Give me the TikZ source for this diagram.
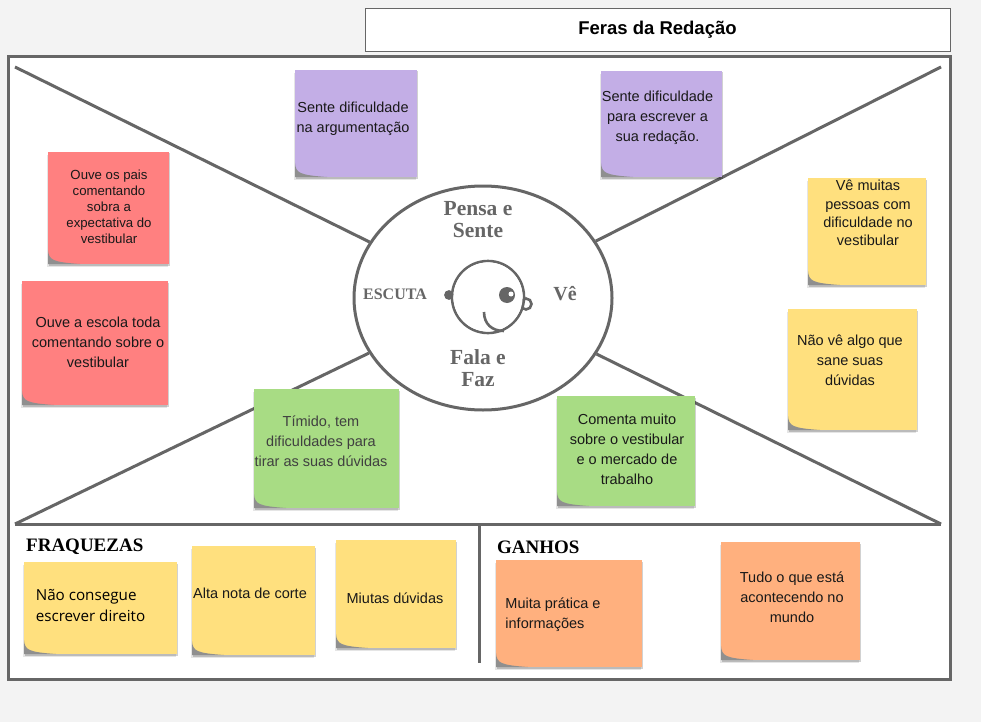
\documentclass[tikz,border=0pt]{standalone}
\usepackage{fontspec}
\setmainfont{Liberation Sans}
\newfontfamily\headfont{Liberation Serif}
\newfontfamily\handfont{Open Sans}
\usetikzlibrary{positioning, calc, shapes.geometric, shadows}
\definecolor{pagebg}{HTML}{F3F3F3}
\definecolor{frameline}{HTML}{666666}
\definecolor{curl}{HTML}{8F8F8F}
\definecolor{notepurple}{HTML}{C3AEE6}
\definecolor{notered}{HTML}{FF8080}
\definecolor{noteyellow}{HTML}{FFE07E}
\definecolor{notegreen}{HTML}{A8DC84}
\definecolor{noteorange}{HTML}{FFB07E}
\begin{document}
\begin{tikzpicture}[
			x = 1pt, y = -1pt,
			sticky/.style = {rectangle, inner sep = 0pt, outer sep = 0pt, fill = #1,
				general shadow = {fill = black, fill opacity = 0.10, shadow xshift = -1pt, shadow yshift = -3pt},
				general shadow = {fill = black, fill opacity = 0.18, shadow xshift = 1pt, shadow yshift = -1.5pt},
				path picture = {\fill[curl] (path picture bounding box.south west) ++(0pt,14pt) .. controls +(1pt,-10pt) and +(-28pt,2pt) .. ++(32pt,-14pt) -- (path picture bounding box.south west) -- cycle;}},
			notetext/.style = {align = center, inner sep = 0pt, text = black!90, font = \fontsize{14.5}{20}\selectfont},
			smalltext/.style = {align = center, inner sep = 0pt, text = black!90, font = \fontsize{13.2}{16}\selectfont},
			handtext/.style = {align = left, inner sep = 0pt, text = black, font = \handfont\fontsize{15.2}{21}\selectfont},
			zone/.style = {align = center, inner sep = 0pt, text = frameline, font = \headfont\bfseries\fontsize{21.5}{22}\selectfont},
			heading/.style = {inner sep = 0pt, anchor = west, text = black, font = \headfont\bfseries\fontsize{19}{22}\selectfont},
			divider/.style = {line width = 3pt, draw = frameline},
			face/.style = {line width = 2.6pt, draw = frameline},
		]
		\useasboundingbox (0,0) rectangle (981,722);
		\fill[pagebg] (0,0) rectangle (981,722);

		\node[draw = frameline, fill = white, line width = 0.8pt, minimum width = 585pt, minimum height = 43pt, inner sep = 0pt, font = \bfseries\fontsize{18.5}{20}\selectfont] (title) at (657.5,29.5) {\raisebox{-1.5pt}{Feras da Redação}};
		\node[draw = frameline, fill = white, line width = 3pt, minimum width = 942pt, minimum height = 623pt, inner sep = 0pt] (canvas) at (479,368) {};

		\coordinate (TL) at (15,67);
		\coordinate (TR) at (941,67);
		\coordinate (BL) at (15,524);
		\coordinate (BR) at (941,524);
		\coordinate (splitA) at (479,524);
		\coordinate (splitB) at (479,663);

		\node[ellipse, draw = frameline, line width = 3pt, fill = white, minimum width = 258pt, minimum height = 224pt, inner sep = 0pt] (hub) at (483,298) {};

		\draw[divider] (TL) -- (hub);
		\draw[divider] (TR) -- (hub);
		\draw[divider] (BL) -- (hub);
		\draw[divider] (BR) -- (hub);
		\draw[divider] (BL) -- (BR);
		\draw[divider] (splitA) -- (splitB);

		\node[zone] (think) at (478,220) {Pensa e\\Sente};
		\node[zone, font = \headfont\bfseries\fontsize{16}{20}\selectfont] (hear) at (395,294) {ESCUTA};
		\node[zone, font = \headfont\bfseries\fontsize{20}{22}\selectfont] (see) at (565,294) {Vê};
		\node[zone] (say) at (478,368) {Fala e\\Faz};

		\node[circle, face, minimum size = 72pt, inner sep = 0pt] (head) at (488,297) {};
		\node[circle, face, fill = frameline, minimum size = 7pt, inner sep = 0pt] (earL) at (449,295) {};
		\node[circle, face, minimum size = 11pt, inner sep = 0pt] (earR) at (526,304) {};
		\fill[white] (head.center) circle (34.6pt);
		\node[circle, fill = frameline, minimum size = 16pt, inner sep = 0pt] (eye) at (507,295) {};
		\node[circle, fill = white, minimum size = 5pt, inner sep = 0pt] (glint) at (511,294) {};
		\coordinate (mouthA) at (484,312);
		\coordinate (mouthB) at (504,331);
		\draw[face] (mouthA) .. controls (484,324) and (492,331) .. (mouthB);

		\node[sticky = notepurple, minimum width = 122pt, minimum height = 107pt] (thinkA) at (356,123.5) {};
		\node[notetext] (thinkAtext) at (353,119) {Sente dificuldade\\na argumentação};
		\node[sticky = notepurple, minimum width = 121pt, minimum height = 106pt] (thinkB) at (661.5,124) {};
		\node[notetext] (thinkBtext) at (657.5,118) {Sente dificuldade\\para escrever a\\sua redação.};

		\node[sticky = notered, minimum width = 121pt, minimum height = 112pt] (hearA) at (108.5,208) {};
		\node[smalltext] (hearAtext) at (109,207) {Ouve os pais\\comentando\\sobra a\\expectativa do\\vestibular};
		\node[sticky = notered, minimum width = 146pt, minimum height = 124pt] (hearB) at (95,343) {};
		\node[notetext] (hearBtext) at (98,342.5) {Ouve a escola toda\\comentando sobre o\\vestibular};

		\node[sticky = noteyellow, minimum width = 118pt, minimum height = 107pt] (seeA) at (867,231.5) {};
		\node[notetext, font = \fontsize{14.5}{18.3}\selectfont] (seeAtext) at (868,213) {Vê muitas\\pessoas com\\dificuldade no\\vestibular};
		\node[sticky = noteyellow, minimum width = 129pt, minimum height = 121pt] (seeB) at (852.5,369.5) {};
		\node[notetext] (seeBtext) at (850,360) {Não vê algo que\\sane suas\\dúvidas};

		\node[sticky = notegreen, minimum width = 145pt, minimum height = 119pt] (sayA) at (326.5,448.5) {};
		\node[notetext, text = black!75] (sayAtext) at (321,441) {Tímido, tem\\dificuldades para\\tirar as suas dúvidas};
		\node[sticky = notegreen, minimum width = 138pt, minimum height = 110pt] (sayB) at (626,451) {};
		\node[notetext] (sayBtext) at (627,449.5) {Comenta muito\\sobre o vestibular\\e o mercado de\\trabalho};

		\node[heading] (weak) at (26,547) {FRAQUEZAS};
		\node[sticky = noteyellow, minimum width = 153pt, minimum height = 92pt] (weakA) at (100.5,608) {};
		\node[handtext] (weakAtext) at (90.5,605.5) {Não consegue\\escrever direito};
		\node[sticky = noteyellow, minimum width = 123pt, minimum height = 109pt] (weakB) at (253.5,600.5) {};
		\node[notetext] (weakBtext) at (250,593.5) {Alta nota de corte};
		\node[sticky = noteyellow, minimum width = 120pt, minimum height = 108pt] (weakC) at (396,594) {};
		\node[notetext] (weakCtext) at (395,598.5) {Miutas dúvidas};

		\node[heading] (gain) at (497,547) {GANHOS};
		\node[sticky = noteorange, minimum width = 146pt, minimum height = 107pt] (gainA) at (569,613.5) {};
		\node[notetext, align = left] (gainAtext) at (553,614.5) {Muita prática e\\informações};
		\node[sticky = noteorange, minimum width = 139pt, minimum height = 118pt] (gainB) at (790.5,601) {};
		\node[notetext] (gainBtext) at (792,597) {Tudo o que está\\acontecendo no\\mundo};
	\end{tikzpicture}
\end{document}
